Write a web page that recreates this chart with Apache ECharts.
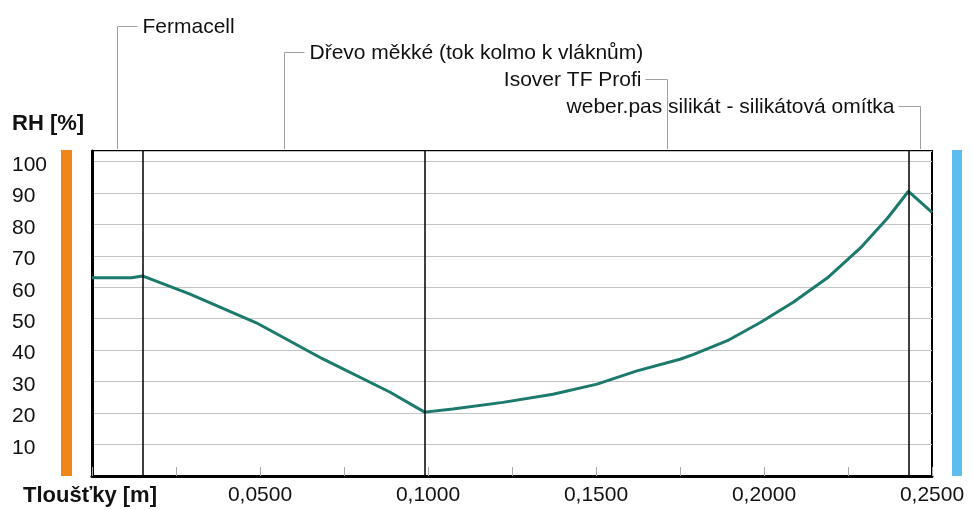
<!DOCTYPE html>
<html>
<head>
<meta charset="utf-8">
<script src="https://cdn.jsdelivr.net/npm/echarts@6/dist/echarts.min.js"></script>
<style>
  html, body { margin: 0; padding: 0; background: #fff; }
  #rhChart { width: 972px; height: 510px; }
</style>
</head>
<body>
<div id="rhChart"></div>
<script>
// tloušťka konstrukce [m] a relativní vlhkost [%]
var thickness = [0, 0.0118, 0.015, 0.029, 0.0489, 0.0687, 0.0886, 0.099,
  0.1074, 0.1223, 0.1372, 0.1503, 0.1622, 0.1750, 0.1789, 0.1891, 0.1989,
  0.2087, 0.2189, 0.2287, 0.2368, 0.243, 0.25];
var rhValues = [63.0, 63.0, 63.6, 57.9, 48.7, 37.2, 26.7, 20.3,
  21.3, 23.4, 26.0, 29.2, 33.4, 37.1, 38.6, 43.0, 48.8,
  55.2, 63.0, 72.5, 82.0, 90.5, 83.8];

// vrstvy konstrukce
var layerNames = ['Fermacell', 'Dřevo měkké (tok kolmo k vláknům)', 'Isover TF Profi', 'weber.pas silikát - silikátová omítka'];
var layerBounds = [0, 0.015, 0.099, 0.243, 0.25];

var yTicks = [10, 20, 30, 40, 50, 60, 70, 80, 90, 100];

var FONT = '"Liberation Sans", Arial, sans-serif';

var chart = echarts.init(document.getElementById('rhChart'));

var lineData = thickness.map(function (t, i) { return [t, rhValues[i]]; });

chart.setOption({
  animation: false,
  grid: {
    left: 92, right: 40, top: 151, bottom: 34,
    show: true, borderColor: '#000', borderWidth: 2
  },
  xAxis: {
    type: 'value',
    min: 0, max: 0.25, interval: 0.025,
    axisLine: { show: true, lineStyle: { color: '#000', width: 3 } },
    axisTick: { show: true, inside: true, length: 9, lineStyle: { color: '#a8a8a8' } },
    splitLine: { show: false },
    axisLabel: {
      margin: 9,
      fontFamily: FONT, fontSize: 21, color: '#111',
      formatter: function (v) {
        var k = Math.round(v / 0.025);
        if (k === 0 || k % 2 === 1) return '';
        return v.toFixed(4).replace('.', ',');
      }
    }
  },
  yAxis: {
    type: 'value',
    min: 0, max: 103.3, interval: 10,
    axisLine: { show: true, lineStyle: { color: '#000', width: 3 } },
    axisTick: { show: false },
    splitLine: { show: true, lineStyle: { color: '#c4c4c4', width: 1 } },
    axisLabel: {
      align: 'left', margin: 80,
      formatter: function (v) {
        return yTicks.indexOf(Math.round(v * 10) / 10) >= 0 ? '{t|' + v + '}' : '';
      },
      rich: {
        t: { fontFamily: FONT, fontSize: 21, color: '#111', padding: [7, 0, 0, 0] }
      }
    }
  },
  series: [{
    type: 'line',
    data: lineData,
    showSymbol: false,
    lineStyle: { color: '#1b7a6c', width: 3 },
    markLine: {
      silent: true,
      symbol: 'none',
      precision: 4,
      label: { show: false },
      lineStyle: { color: '#000', width: 1.5, type: 'solid' },
      data: layerBounds.slice(1, 4).map(function (b) { return { xAxis: b }; })
    }
  }]
});

// popisky vrstev s odkazovými čarami + barevné pruhy po stranách
var plotTop = 151, plotBottom = 476;
var leaderY = [26, 52, 79, 106];
var graphics = [];
layerNames.forEach(function (name, i) {
  var mid = (layerBounds[i] + layerBounds[i + 1]) / 2;
  var px = Math.round(chart.convertToPixel({ xAxisIndex: 0 }, mid)) + 0.5;
  var right = i >= 2;
  var endX = right ? px - 22 : px + 20;
  graphics.push({
    type: 'polyline', silent: true,
    shape: { points: [[px, plotTop - 2], [px, leaderY[i] + 0.5], [endX, leaderY[i] + 0.5]] },
    style: { stroke: '#a0a0a0', lineWidth: 1, fill: null }
  });
  graphics.push({
    type: 'text', silent: true,
    x: right ? endX - 4 : endX + 5, y: leaderY[i] + 1,
    style: {
      text: name, fill: '#111', font: '21px ' + FONT,
      align: right ? 'right' : 'left', verticalAlign: 'middle'
    }
  });
});

graphics.push({
  type: 'rect', silent: true,
  shape: { x: 61, y: plotTop - 1, width: 11, height: plotBottom - plotTop + 1 },
  style: { fill: '#f08519' }
});
graphics.push({
  type: 'rect', silent: true,
  shape: { x: 952, y: plotTop - 1, width: 10, height: plotBottom - plotTop + 1 },
  style: { fill: '#5cbdee' }
});
graphics.push({
  type: 'text', silent: true, x: 12, y: 124,
  style: { text: 'RH [%]', fill: '#111', font: 'bold 22px ' + FONT, verticalAlign: 'middle' }
});
graphics.push({
  type: 'text', silent: true, x: 23, y: 496,
  style: { text: 'Tloušťky [m]', fill: '#111', font: 'bold 22px ' + FONT, verticalAlign: 'middle' }
});

chart.setOption({ graphic: graphics });
</script>
</body>
</html>
